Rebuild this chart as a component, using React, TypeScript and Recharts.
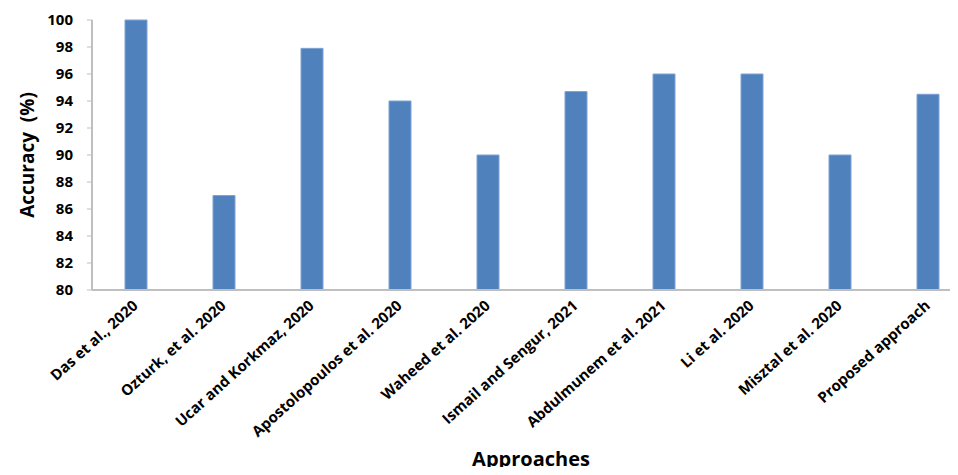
import React from 'react';
import { BarChart, Bar, XAxis, YAxis } from 'recharts';

const approaches = [
  'Das et al., 2020',
  'Ozturk, et al. 2020',
  'Ucar and Korkmaz, 2020',
  'Apostolopoulos et al. 2020',
  'Waheed et al. 2020',
  'Ismail and Sengur, 2021',
  'Abdulmunem et al. 2021',
  'Li et al. 2020',
  'Misztal et al. 2020',
  'Proposed approach',
];
const accuracy = [100, 87, 97.9, 94, 90, 94.7, 96, 96, 90, 94.5];
const yTicks = [80, 82, 84, 86, 88, 90, 92, 94, 96, 98, 100];

const data = approaches.map((name, i) => ({ name, accuracy: accuracy[i] }));

const FONT = '"Open Sans", Lato, sans-serif';

function AngledTick({ x, y, payload }: any) {
  return (
    <g transform={`translate(${x + 3},${y + 9})`}>
      <text
        x={0}
        y={0}
        textAnchor="end"
        transform="rotate(-42)"
        fontFamily={FONT}
        fontWeight="bold"
        fontSize={15}
        fill="#000"
      >
        {payload.value}
      </text>
    </g>
  );
}

export default function App() {
  return (
    <div style={{ width: 958, height: 475, overflow: 'hidden', margin: -8, background: '#fff' }}>
      <BarChart
        width={972}
        height={475}
        data={data}
        margin={{ top: 20, right: 0, bottom: 0, left: 0 }}
        barSize={22}
      >
        <XAxis
          dataKey="name"
          height={185}
          interval={0}
          tick={<AngledTick />}
          tickLine={false}
          axisLine={{ stroke: '#BFBFBF', strokeWidth: 2 }}
          label={{
            content: () => (
              <text
                x={531}
                y={466}
                textAnchor="middle"
                fontFamily={FONT}
                fontWeight="bold"
                fontSize={20}
                fill="#000"
              >
                Approaches
              </text>
            ),
          }}
        />
        <YAxis
          width={92}
          domain={[80, 100]}
          ticks={yTicks}
          interval={0}
          tickSize={5}
          tickMargin={14}
          tickLine={{ stroke: '#BFBFBF' }}
          axisLine={{ stroke: '#BFBFBF', strokeWidth: 2 }}
          tick={{ fontFamily: FONT, fontWeight: 'bold', fontSize: 15, fill: '#000' }}
          label={{
            content: () => (
              <text
                x={27}
                y={155}
                transform="rotate(-90 27 155)"
                textAnchor="middle"
                dominantBaseline="central"
                fontFamily={FONT}
                fontWeight="bold"
                fontSize={19}
                fill="#000"
                style={{ whiteSpace: 'pre' }}
              >
                Accuracy  (%)
              </text>
            ),
          }}
        />
        <Bar
          dataKey="accuracy"
          fill="#4F81BD"
          stroke="#7FA3D3"
          strokeWidth={1}
          isAnimationActive={false}
        />
      </BarChart>
    </div>
  );
}
